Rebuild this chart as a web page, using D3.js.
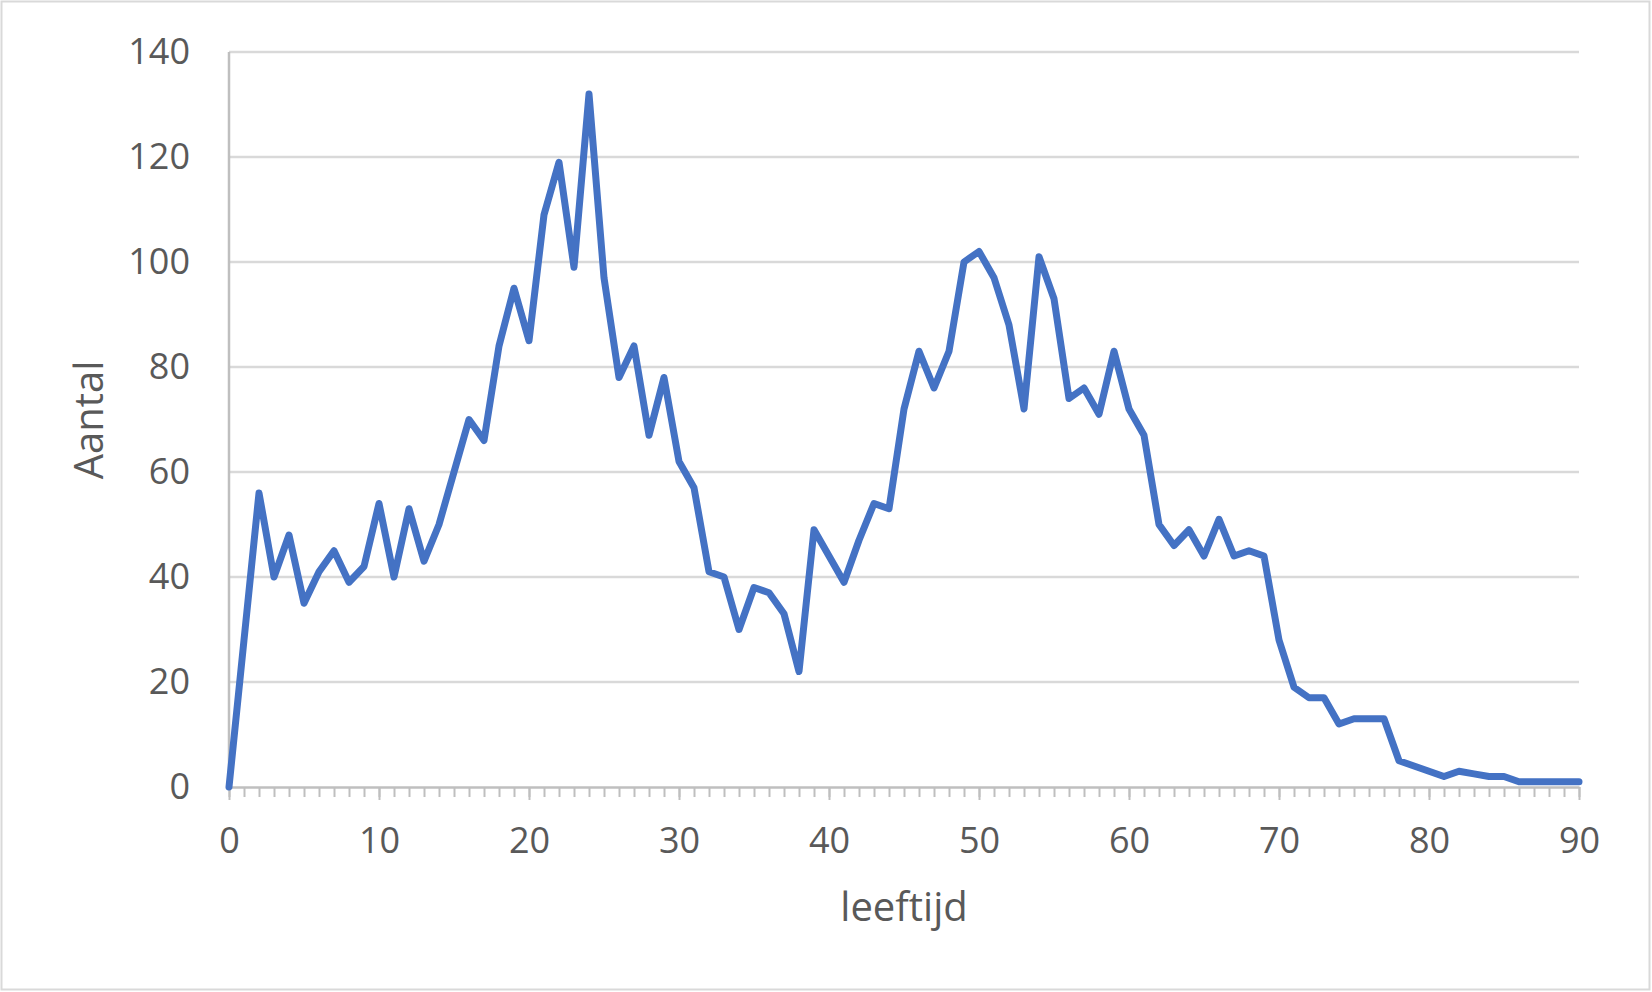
<!DOCTYPE html>
<html>
<head>
<meta charset="utf-8">
<script src="https://cdn.jsdelivr.net/npm/d3@7/dist/d3.min.js"></script>
<style>
  html, body { margin: 0; padding: 0; background: #fff; }
  svg { display: block; }
  text { font-family: "Open Sans", "Liberation Sans", sans-serif; fill: #595959; }
</style>
</head>
<body>
<svg id="chart" width="1652" height="992"></svg>
<script>
// ---- data ----
const ages = d3.range(0, 91);
const counts = [
  0, 28, 56, 40, 48, 35, 41, 45, 39, 42,
  54, 40, 53, 43, 50, 60, 70, 66, 84, 95,
  85, 109, 119, 99, 132, 97, 78, 84, 67, 78,
  62, 57, 41, 40, 30, 38, 37, 33, 22, 49,
  44, 39, 47, 54, 53, 72, 83, 76, 83, 100,
  102, 97, 88, 72, 101, 93, 74, 76, 71, 83,
  72, 67, 50, 46, 49, 44, 51, 44, 45, 44,
  28, 19, 17, 17, 12, 13, 13, 13, 5, 4,
  3, 2, 3, 2.5, 2, 2, 1, 1, 1, 1,
  1
];
const yTicks = [0, 20, 40, 60, 80, 100, 120, 140];
const xMajorTicks = [0, 10, 20, 30, 40, 50, 60, 70, 80, 90];
const xMinorTicks = d3.range(0, 91);
const xTitle = "leeftijd";
const yTitle = "Aantal";

// ---- layout ----
const svg = d3.select("#chart");
const pLeft = 229, pRight = 1579, pTop = 52, pBottom = 787;

const x = d3.scaleLinear().domain([0, 90]).range([pLeft, pRight]);
const y = d3.scaleLinear().domain([0, 140]).range([pBottom, pTop]);

// outer border
svg.append("rect")
  .attr("x", 1.5).attr("y", 1.5)
  .attr("width", 1648).attr("height", 988)
  .attr("fill", "#fff").attr("stroke", "#d9d9d9").attr("stroke-width", 2);

// gridlines
svg.append("g")
  .selectAll("line")
  .data(yTicks.filter(d => d > 0))
  .join("line")
  .attr("x1", pLeft).attr("x2", pRight)
  .attr("y1", d => y(d)).attr("y2", d => y(d))
  .attr("stroke", "#d9d9d9").attr("stroke-width", 2.5);

// y-axis labels
const yAxis = d3.axisLeft(y).tickValues(yTicks).tickSize(0).tickPadding(39);
const gy = svg.append("g").attr("transform", `translate(${pLeft},0)`).call(yAxis);
gy.select(".domain").remove();
gy.selectAll("text").attr("font-size", 36).attr("fill", "#595959")
  .style("font-family", '"Open Sans", sans-serif');

// y-axis line
svg.append("line")
  .attr("x1", pLeft).attr("x2", pLeft)
  .attr("y1", pTop).attr("y2", pBottom)
  .attr("stroke", "#bfbfbf").attr("stroke-width", 2.5);

// x-axis minor ticks
const xMinor = d3.axisBottom(x).tickValues(xMinorTicks).tickSize(10).tickFormat("");
const gxm = svg.append("g").attr("transform", `translate(0,${pBottom})`).call(xMinor);
gxm.select(".domain").remove();
gxm.selectAll("line").attr("stroke", "#bfbfbf").attr("stroke-width", 2);

// x-axis major ticks + labels
const xMajor = d3.axisBottom(x).tickValues(xMajorTicks).tickSize(13).tickSizeOuter(0).tickPadding(27);
const gx = svg.append("g").attr("transform", `translate(0,${pBottom})`).call(xMajor);
gx.select(".domain").attr("stroke", "#bfbfbf").attr("stroke-width", 2.5);
gx.selectAll("line").attr("stroke", "#bfbfbf").attr("stroke-width", 2);
gx.selectAll("text").attr("font-size", 36).attr("fill", "#595959")
  .style("font-family", '"Open Sans", sans-serif');

// line
const line = d3.line()
  .x((d, i) => x(ages[i]))
  .y(d => y(d));

svg.append("path")
  .datum(counts)
  .attr("d", line)
  .attr("fill", "none")
  .attr("stroke", "#4472C4")
  .attr("stroke-width", 7)
  .attr("stroke-linejoin", "round")
  .attr("stroke-linecap", "round");

// axis titles
svg.append("text")
  .attr("x", (pLeft + pRight) / 2).attr("y", 921)
  .attr("text-anchor", "middle")
  .attr("font-size", 40)
  .text(xTitle);

svg.append("text")
  .attr("transform", `translate(103,420) rotate(-90)`)
  .attr("text-anchor", "middle")
  .attr("font-size", 40)
  .text(yTitle);
</script>
</body>
</html>
